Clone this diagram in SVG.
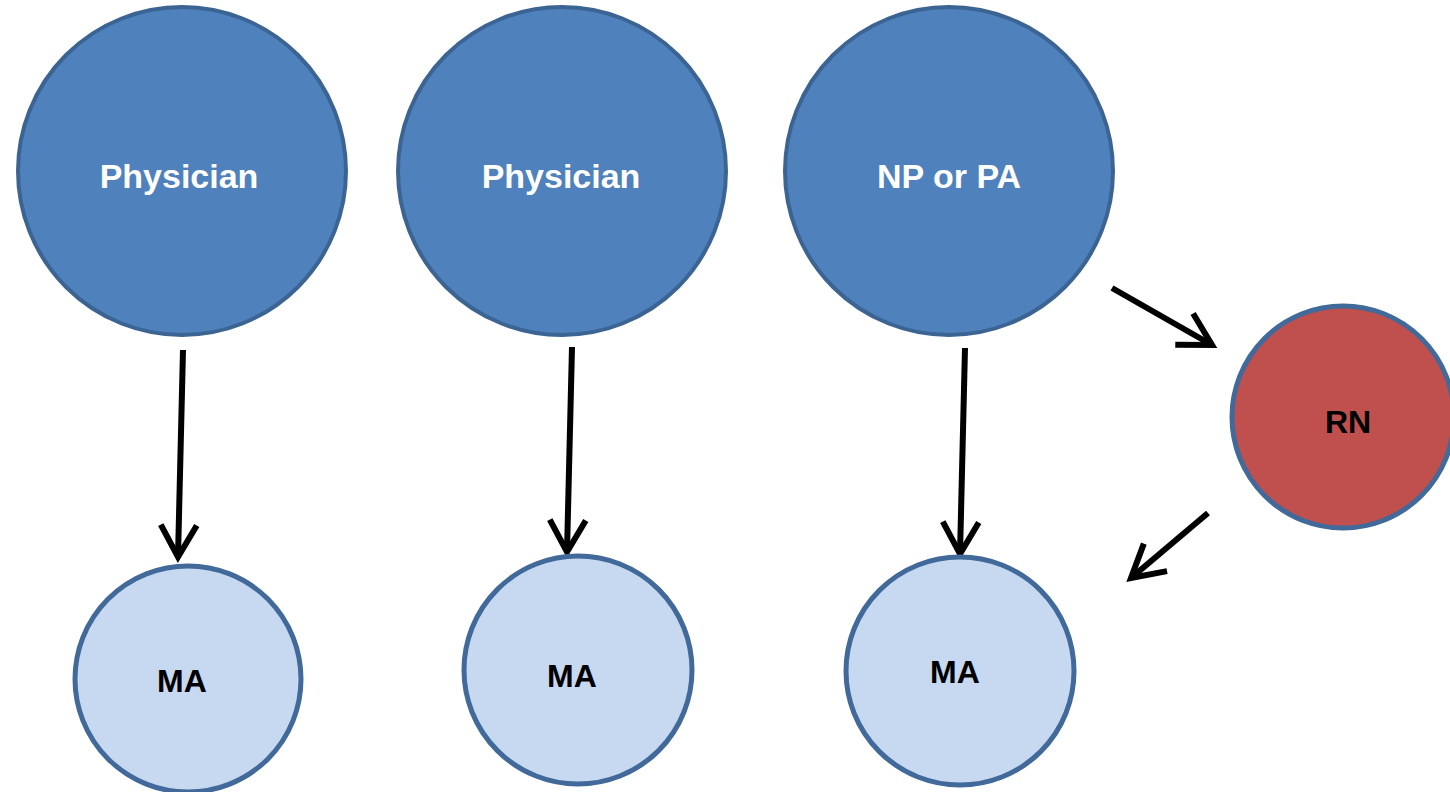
<svg xmlns="http://www.w3.org/2000/svg" width="1450" height="792" viewBox="0 0 1450 792">
<style>
.big{fill:#4F81BD;stroke:#3B6493;stroke-width:4}
.ma{fill:#C6D9F1;stroke:#41699A;stroke-width:5}
.rn{fill:#C0504D;stroke:#41699A;stroke-width:5}
.lbl{font-family:"Liberation Sans",Arial,sans-serif;font-weight:bold;text-anchor:middle}
.w{fill:#FFFFFF;font-size:34px}
.k{fill:#000000;font-size:32px}
.conn{stroke:#000;stroke-width:6;fill:none;marker-end:url(#ah)}
</style>
<defs>
<marker id="ah" markerUnits="userSpaceOnUse" markerWidth="50" markerHeight="50" viewBox="-40 -25 50 50" refX="0" refY="0" orient="auto" overflow="visible">
<path d="M-32,-18 L0,0 L-32,18" fill="none" stroke="#000" stroke-width="6" stroke-linejoin="miter"/>
</marker>
</defs>
<rect width="1450" height="792" fill="#FFFFFF"/>
<g id="connectors">
<line class="conn" x1="183" y1="350" x2="178" y2="557"/>
<line class="conn" x1="572" y1="347" x2="567" y2="552"/>
<line class="conn" x1="965" y1="348" x2="960" y2="554"/>
<line class="conn" x1="1112" y1="288" x2="1212" y2="345"/>
<line class="conn" x1="1208" y1="513" x2="1131" y2="578"/>
</g>
<g id="physician1">
<circle class="big" cx="182" cy="171" r="164"/>
<text class="lbl w" x="179" y="188">Physician</text>
</g>
<g id="physician2">
<circle class="big" cx="562" cy="171" r="164"/>
<text class="lbl w" x="561" y="188">Physician</text>
</g>
<g id="npa">
<circle class="big" cx="949" cy="171" r="164"/>
<text class="lbl w" x="949" y="188">NP or PA</text>
</g>
<g id="rn">
<circle class="rn" cx="1343" cy="417" r="111"/>
<text class="lbl k" x="1348" y="433">RN</text>
</g>
<g id="ma1">
<circle class="ma" cx="188" cy="679" r="113"/>
<text class="lbl k" x="182" y="692">MA</text>
</g>
<g id="ma2">
<circle class="ma" cx="578" cy="670" r="114"/>
<text class="lbl k" x="572" y="687">MA</text>
</g>
<g id="ma3">
<circle class="ma" cx="960" cy="671" r="114"/>
<text class="lbl k" x="955" y="683">MA</text>
</g>
</svg>
